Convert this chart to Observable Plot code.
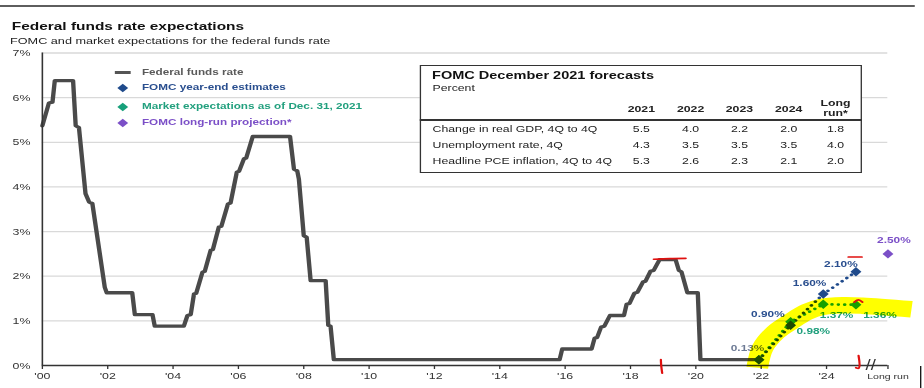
<!DOCTYPE html>
<html><head><meta charset="utf-8">
<script src="https://cdn.jsdelivr.net/npm/d3@7"></script>
<script src="https://cdn.jsdelivr.net/npm/@observablehq/plot@0.6"></script>
<style>
html,body{margin:0;padding:0;background:#fff;overflow:hidden;width:924px;height:388px;}
#page{position:absolute;left:0;top:0;width:700px;height:388px;transform:scaleX(1.32);transform-origin:0 0;font-family:"Liberation Sans",Arial,sans-serif;color:#222;}
.abs{position:absolute;white-space:nowrap;line-height:1;}
</style></head><body>
<div id="page"></div>
<script>
// ---------------- DATA ----------------
const ffDate = [2000.00,2000.20,2000.31,2000.38,2000.94,2001.02,2001.12,2001.32,2001.43,2001.53,2001.91,2001.97,2002.75,2002.83,2003.37,2003.44,2004.33,2004.44,2004.54,2004.64,2004.71,2004.90,2004.97,2005.15,2005.22,2005.40,2005.48,2005.68,2005.76,2005.95,2006.02,2006.17,2006.24,2006.44,2007.58,2007.70,2007.80,2007.85,2008.00,2008.09,2008.21,2008.67,2008.75,2008.82,2008.92,2015.83,2015.91,2016.81,2016.90,2016.98,2017.10,2017.20,2017.37,2017.80,2017.88,2017.97,2018.12,2018.21,2018.38,2018.46,2018.61,2018.71,2018.89,2019.38,2019.48,2019.56,2019.74,2020.06,2020.14,2021.93];
const ffRate = [5.37,5.88,5.90,6.38,6.38,5.37,5.33,3.85,3.66,3.63,1.75,1.63,1.63,1.14,1.14,0.88,0.88,1.12,1.14,1.60,1.62,2.09,2.11,2.58,2.60,3.10,3.12,3.62,3.64,4.33,4.35,4.63,4.65,5.13,5.13,4.40,4.36,4.18,2.91,2.87,1.90,1.90,0.90,0.88,0.13,0.13,0.37,0.37,0.61,0.63,0.86,0.88,1.12,1.12,1.37,1.39,1.62,1.64,1.87,1.89,2.11,2.13,2.37,2.37,2.13,2.10,1.63,1.63,0.13,0.13];

const estDate = [2021.93, 2022.90, 2023.90, 2024.90];
const fomcEst = [0.13, 0.90, 1.60, 2.10];
const marketEst = [0.13, 0.98, 1.37, 1.36];
const longRunDate = 2025.88;
const longRunValue = 2.50;
const breakDate = 2025.35;

const yTicks = [0,1,2,3,4,5,6,7];
const xTicks = [2000,2002,2004,2006,2008,2010,2012,2014,2016,2018,2020,2022,2024];
const xTickLabels = ["'00","'02","'04","'06","'08","'10","'12","'14","'16","'18","'20","'22","'24"];
const longRunLabel = "Long run";

const legendLabels = ["Federal funds rate","FOMC year-end estimates","Market expectations as of Dec. 31, 2021","FOMC long-run projection*"];

const tableTitle = "FOMC December 2021 forecasts";
const tableUnit = "Percent";
const tableCols = ["2021","2022","2023","2024","Long run*"];
const rowLabels = ["Change in real GDP, 4Q to 4Q","Unemployment rate, 4Q","Headline PCE inflation, 4Q to 4Q"];
const gdpRow = ["5.5","4.0","2.2","2.0","1.8"];
const unempRow = ["4.3","3.5","3.5","3.5","4.0"];
const pceRow = ["5.3","2.6","2.3","2.1","2.0"];

// hand-drawn highlighter and red pen annotations (values in chart units)
const highlightDate = [2021.88,2022.05,2022.45,2022.90,2023.40,2023.85,2024.50,2025.10,2026.60];
const highlightLevel = [-0.05,0.40,0.75,0.98,1.20,1.31,1.35,1.34,1.26];
const redPeakDate = [2018.71,2019.20,2019.69]; const redPeakLevel = [2.38,2.395,2.40];
const redTick1Date = [2018.93,2018.94,2018.97]; const redTick1Level = [0.13,0.0,-0.17];
const redTick2Date = [2024.98,2024.99,2024.90]; const redTick2Level = [0.22,-0.06,-0.05];
const redTopDate = [2024.67,2025.08]; const redTopLevel = [2.43,2.43];
const redArcDate = [2024.85,2024.98,2025.10]; const redArcLevel = [1.42,1.47,1.42];

// ---------------- STYLE ----------------
const NAVY = "#1f4a8b", GREEN = "#17a07a", PURPLE = "#7b4fc7", GRAY = "#4a4a4a";
const NAVY_T = "#2a4f8f", GREEN_T = "#22a07e", SLATE_T = "#6e7b95";
const page = document.getElementById("page");

function txt(s, o) {
  const d = document.createElement("div");
  d.className = "abs";
  d.textContent = s;
  d.style.fontSize = o.size + "px";
  d.style.top = (o.cy - 0.488 * o.size) + "px";
  d.style.left = o.x + "px";
  d.style.fontWeight = o.weight || "normal";
  d.style.color = o.color || "#222";
  if (o.anchor === "middle") d.style.transform = "translateX(-50%)";
  page.appendChild(d);
  return d;
}
function box(o) {
  const d = document.createElement("div");
  d.style.position = "absolute";
  Object.assign(d.style, o);
  page.appendChild(d);
  return d;
}

// top rule
box({left:"0px", top:"5px", width:"693px", height:"2px", background:"#5e5e5e"});
// right border fragment
box({left:"696.5px", top:"366px", width:"1.5px", height:"22px", background:"#111"});

txt("Federal funds rate expectations", {x:8.9, cy:25.5, size:11.7, weight:"bold", color:"#111"});
txt("FOMC and market expectations for the federal funds rate", {x:7.6, cy:40.3, size:9.6, color:"#222"});

// ---------------- CHART ----------------
const ff = ffDate.map((d,i)=>({date:d, rate:ffRate[i]}));
const fomc = estDate.map((d,i)=>({date:d, v:fomcEst[i]}));
const market = estDate.map((d,i)=>({date:d, v:marketEst[i]}));
const lr = [{date:longRunDate, v:longRunValue}];
const hl = highlightDate.map((d,i)=>({date:d, v:highlightLevel[i]}));
const mk = (ds, vs) => ds.map((d,i)=>({date:d, v:vs[i]}));

const diamond = {draw(ctx, size){ const r = Math.sqrt(size/Math.PI); ctx.moveTo(0,-r*1.05); ctx.lineTo(r*0.92,0); ctx.lineTo(0,r*1.05); ctx.lineTo(-r*0.92,0); ctx.closePath(); }};
const fmt = v => v.toFixed(2) + "%";

const fomcOff = [[-8.6,-11.9],[-17.2,-11.5],[-10.4,-10.9],[-11.4,-7.9]];
const marketOff = [null,[17.2,9.5],[10.1,11.2],[18.2,10.7]];
const lrOff = [4.5,-13.4];

const labelMarks = [];
fomc.forEach((d,i)=>{
  labelMarks.push(Plot.text([d], {x:"date", y:"v", text:dd=>fmt(dd.v), dx:fomcOff[i][0], dy:fomcOff[i][1], fill: i===0 ? SLATE_T : NAVY_T, fontWeight:"bold", fontSize:9}));
});
market.forEach((d,i)=>{
  if (!marketOff[i]) return;
  labelMarks.push(Plot.text([d], {x:"date", y:"v", text:dd=>fmt(dd.v), dx:marketOff[i][0], dy:marketOff[i][1], fill: GREEN_T, fontWeight:"bold", fontSize:9}));
});
labelMarks.push(Plot.text(lr, {x:"date", y:"v", text:dd=>fmt(dd.v), dx:lrOff[0], dy:lrOff[1], fill: PURPLE, fontWeight:"bold", fontSize:9}));

const RED = "#e0100f";
const redMark = (ds, vs) => Plot.line(mk(ds, vs), {x:"date", y:"v", stroke:RED, strokeWidth:1.7, curve:"catmull-rom", strokeLinecap:"round"});

const chart = Plot.plot({
  width: 700, height: 346,
  marginLeft: 31.6, marginRight: 27.8, marginTop: 10.5, marginBottom: 23,
  style: {fontFamily: "Liberation Sans, Arial, sans-serif", fontSize: "9.4px", color: "#333", background: "transparent", overflow: "visible"},
  x: {type:"linear", domain:[2000, longRunDate], ticks:[...xTicks, longRunDate], tickFormat: d => { const i = xTicks.indexOf(d); return i >= 0 ? xTickLabels[i] : ""; }, tickSize:4, tickPadding:3, label:null},
  y: {domain:[0,7], ticks: yTicks, tickFormat: d => d + "%", tickSize:0, tickPadding:9, label:null},
  marks: [
    Plot.ruleY(yTicks.filter(d=>d>0), {stroke:"#d9d9d9", strokeWidth:1.3}),
    Plot.line(ff, {x:"date", y:"rate", stroke:GRAY, strokeWidth:3.3, strokeLinejoin:"round"}),
    Plot.ruleX([2000], {y1:0, y2:7, stroke:"#333", strokeWidth:1.2}),
    Plot.ruleY([0], {stroke:"#333", strokeWidth:1.3}),
    Plot.line(market, {x:"date", y:"v", stroke:GREEN, strokeWidth:2.7, strokeDasharray:"0.01 4.8", strokeLinecap:"round"}),
    Plot.line(fomc, {x:"date", y:"v", stroke:NAVY, strokeWidth:2.7, strokeDasharray:"0.01 4.8", strokeLinecap:"round"}),
    Plot.dot(market, {x:"date", y:"v", symbol: diamond, r:4.5, fill:GREEN, stroke:"none"}),
    Plot.dot(fomc, {x:"date", y:"v", symbol: diamond, r:4.5, fill:NAVY, stroke:"none"}),
    Plot.dot(lr, {x:"date", y:"v", symbol: diamond, r:4.5, fill:PURPLE, stroke:"none"}),
    ...labelMarks,
    Plot.line(hl, {x:"date", y:"v", stroke:"#ffff00", strokeWidth:16.5, curve:"catmull-rom", strokeLinecap:"butt", mixBlendMode:"multiply"}),
    redMark(redPeakDate, redPeakLevel),
    redMark(redTick1Date, redTick1Level),
    redMark(redTick2Date, redTick2Level),
    redMark(redTopDate, redTopLevel),
    redMark(redArcDate, redArcLevel),
    Plot.text([breakDate], {x:d=>d, y:0, text:()=>"//", fontSize:14, fill:"#333"}),
    Plot.text([longRunDate], {x:d=>d, y:0, text:()=>longRunLabel, fontSize:8, dy:11, fill:"#333"})
  ]
});
const holder = box({left:"0px", top:"42px"});
holder.appendChild(chart);

// ---------------- LEGEND ----------------
const legendCy = [72.2, 87.8, 106.5, 122.5];
const legendColors = [GRAY, NAVY, GREEN, PURPLE];
const legendTextColors = ["#5a5a5a", NAVY_T, GREEN_T, PURPLE];
legendLabels.forEach((lab, i) => {
  if (i === 0) {
    box({left:"87px", top:(legendCy[i]-1.65)+"px", width:"11.5px", height:"3.3px", background:"#555"});
  } else {
    const ns = "http://www.w3.org/2000/svg";
    const s = document.createElementNS(ns, "svg");
    s.setAttribute("width", "10"); s.setAttribute("height", "10");
    s.style.position = "absolute"; s.style.left = (92.8-5)+"px"; s.style.top = (legendCy[i]-5)+"px";
    const p = document.createElementNS(ns, "polygon");
    p.setAttribute("points", "5,0.8 9.1,5 5,9.2 0.9,5");
    p.setAttribute("fill", legendColors[i]);
    s.appendChild(p); page.appendChild(s);
  }
  txt(lab, {x:107.5, cy:legendCy[i], size:8.9, weight:"bold", color:legendTextColors[i]});
});

// ---------------- TABLE ----------------
box({left:"318.2px", top:"65px", width:"334.6px", height:"108.3px", border:"1.3px solid #333", boxSizing:"border-box", background:"#fff"});
txt(tableTitle, {x:327.3, cy:75.8, size:11, weight:"bold", color:"#111"});
txt(tableUnit, {x:327.7, cy:88.3, size:9.3, color:"#222"});
const colX = [485.9, 523.2, 560.2, 597.5, 633.0];
tableCols.forEach((c,i)=>{
  const parts = c.split(" ");
  if (parts.length === 1) txt(c, {x:colX[i], cy:110, size:9.3, weight:"bold", color:"#222", anchor:"middle"});
  else {
    txt(parts[0], {x:colX[i], cy:103.3, size:9.3, weight:"bold", color:"#222", anchor:"middle"});
    txt(parts[1], {x:colX[i], cy:113.2, size:9.3, weight:"bold", color:"#222", anchor:"middle"});
  }
});
box({left:"318.2px", top:"119.3px", width:"334.6px", height:"1.8px", background:"#333"});
const rows = [gdpRow, unempRow, pceRow];
const rowCy = [129.2, 145.7, 161.7];
rowLabels.forEach((lab, r)=>{
  txt(lab, {x:327.7, cy:rowCy[r], size:9.3, color:"#222"});
  rows[r].forEach((v,i)=> txt(v, {x:colX[i], cy:rowCy[r], size:9.3, color:"#222", anchor:"middle"}));
});
</script>
</body></html>
